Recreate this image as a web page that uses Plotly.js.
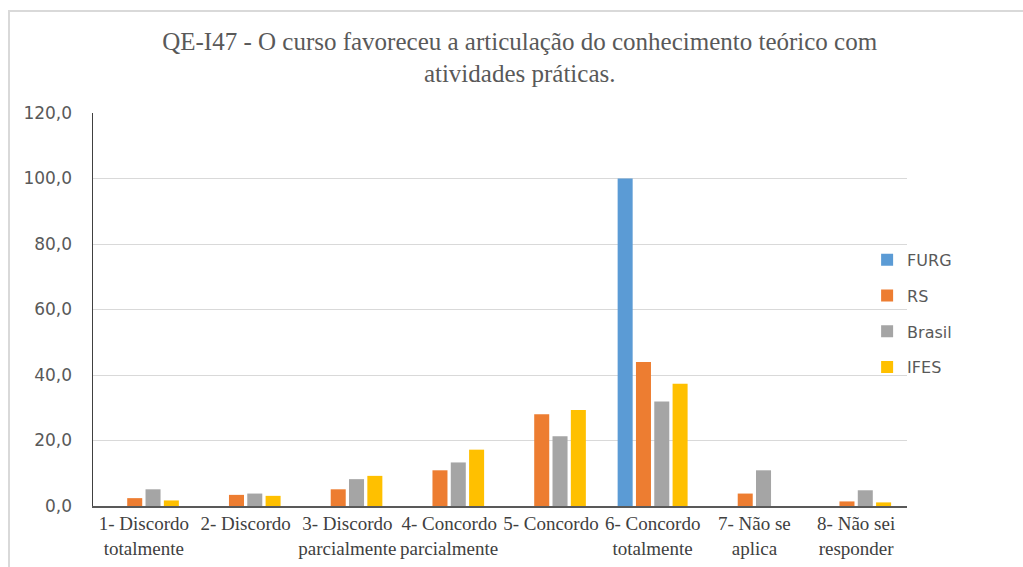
<!DOCTYPE html>
<html>
<head>
<meta charset="utf-8">
<script src="https://cdn.plot.ly/plotly-3.0.1.min.js"></script>
<style>
html,body{margin:0;padding:0;background:#fff;}
#wrap{position:relative;width:1023px;height:567px;overflow:hidden;}
#chart{width:1023px;height:567px;}
#frame{position:absolute;left:8px;top:10px;width:1100px;height:700px;border:2px solid #d9d9d9;pointer-events:none;box-sizing:border-box;}
</style>
</head>
<body>
<div id="wrap">
<div id="chart"></div>
<div id="frame"></div>
</div>
<script>
var categories = [
  "1- Discordo<br>totalmente",
  "2- Discordo",
  "3- Discordo<br>parcialmente",
  "4- Concordo<br>parcialmente",
  "5- Concordo",
  "6- Concordo<br>totalmente",
  "7- Não se<br>aplica",
  "8- Não sei<br>responder"
];
var furg   = [0, 0, 0, 0, 0, 100, 0, 0];
var rs     = [2.4, 3.4, 5.1, 10.9, 28.0, 44.0, 3.8, 1.4];
var brasil = [5.1, 3.8, 8.2, 13.3, 21.3, 31.9, 10.9, 4.8];
var ifes   = [1.7, 3.1, 9.2, 17.2, 29.3, 37.3, 0, 1.1];
var yTickVals = [0, 20, 40, 60, 80, 100, 120];
var yTickText = ["0,0", "20,0", "40,0", "60,0", "80,0", "100,0", "120,0"];

var seriesNames = ["FURG", "RS", "Brasil", "IFES"];
var seriesData = [furg, rs, brasil, ifes];
var seriesColors = ["#5B9BD5", "#ED7D31", "#A5A5A5", "#FFC000"];

var traces = seriesNames.map(function(n, i){
  return {
    type: "bar",
    name: n,
    x: categories,
    y: seriesData[i],
    legendgroup: n,
    marker: {color: seriesColors[i], line: {width: 0}},
    hoverinfo: "x+y+name"
  };
});

var layout = {
  width: 1023, height: 567,
  paper_bgcolor: "#ffffff", plot_bgcolor: "#ffffff",
  margin: {l: 93, r: 116, t: 113, b: 61},
  barmode: "group",
  bargap: 0.28,
  bargroupgap: 0.18,
  title: {
    text: "QE-I47 - O curso favoreceu a articulação do conhecimento teórico com<br>atividades práticas.",
    font: {family: "Liberation Serif, Times New Roman, serif", size: 25, color: "#595959"},
    x: 0.508, xanchor: "center", y: 0.912, yanchor: "middle"
  },
  xaxis: {
    type: "category",
    showgrid: false,
    showline: true, linecolor: "#595959", linewidth: 1.5,
    ticks: "",
    tickfont: {family: "Liberation Serif, Times New Roman, serif", size: 19, color: "#404040"},
    fixedrange: true
  },
  yaxis: {
    range: [0, 120],
    tickvals: yTickVals, ticktext: yTickText,
    showgrid: true, gridcolor: "#d9d9d9", gridwidth: 1,
    zeroline: false,
    showline: true, linecolor: "#404040", linewidth: 1.5,
    ticks: "",
    ticklabelstandoff: 16,
    tickfont: {family: "DejaVu Sans, sans-serif", size: 17, color: "#595959"},
    fixedrange: true
  },
  showlegend: true,
  legend: {
    orientation: "v",
    x: 0.951, xanchor: "left",
    y: 0.489, yanchor: "middle",
    bgcolor: "rgba(0,0,0,0)",
    font: {family: "DejaVu Sans, sans-serif", size: 16, color: "#595959"},
    tracegroupgap: 12,
    itemwidth: 30
  }
};

Plotly.newPlot("chart", traces, layout, {displayModeBar: false, staticPlot: true});
</script>
</body>
</html>
